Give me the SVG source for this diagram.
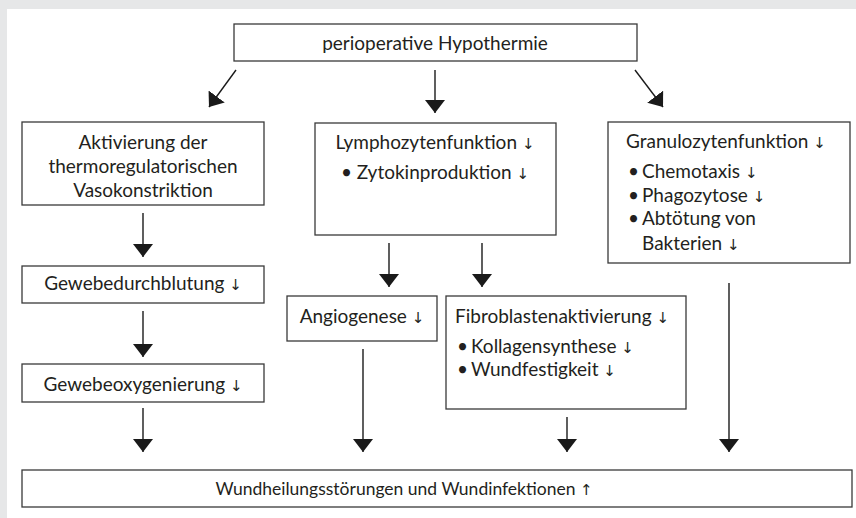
<svg xmlns="http://www.w3.org/2000/svg" width="856" height="518" viewBox="0 0 856 518">
<style>
.box{fill:#fff;stroke:#3a3a3a;stroke-width:1.3}
.t{font-family:Lato,"Open Sans","Liberation Sans",sans-serif;font-size:19px;fill:#231f20}
.c{text-anchor:middle}
.a{font-family:"DejaVu Sans",sans-serif;font-size:15px;fill:#231f20}
.ln{stroke:#1a1a1a;stroke-width:1.4;fill:none;marker-end:url(#ah)}
</style>
<defs>
<marker id="ah" markerUnits="userSpaceOnUse" markerWidth="14" markerHeight="22" refX="13" refY="10" orient="auto">
<path d="M0,0 L13,10 L0,20 Z" fill="#1a1a1a"/>
</marker>
</defs>
<rect x="0" y="0" width="856" height="518" fill="#e6e7e8"/>
<rect x="7" y="9" width="849" height="509" fill="#fff"/>

<g id="connectors">
<line class="ln" x1="236" y1="70" x2="209" y2="107"/>
<line class="ln" x1="435" y1="70" x2="435" y2="113"/>
<line class="ln" x1="635" y1="70" x2="663" y2="107"/>
<line class="ln" x1="143" y1="213" x2="143" y2="257"/>
<line class="ln" x1="143" y1="311" x2="143" y2="357"/>
<line class="ln" x1="143" y1="408" x2="143" y2="452"/>
<line class="ln" x1="389" y1="243" x2="389" y2="287"/>
<line class="ln" x1="482" y1="243" x2="482" y2="287"/>
<line class="ln" x1="363" y1="349" x2="363" y2="452"/>
<line class="ln" x1="567" y1="417" x2="567" y2="452"/>
<line class="ln" x1="729" y1="283" x2="729" y2="452"/>
</g>

<g id="hypothermie">
<rect class="box" x="234" y="24" width="403" height="37"/>
<text class="t c" x="435" y="50">perioperative Hypothermie</text>
</g>
<g id="aktivierung">
<rect class="box" x="22" y="122" width="242" height="83"/>
<text class="t c" x="143" y="149">Aktivierung der</text>
<text class="t c" x="143" y="173">thermoregulatorischen</text>
<text class="t c" x="143" y="197">Vasokonstriktion</text>
</g>
<g id="gewebedurchblutung">
<rect class="box" x="22" y="266" width="242" height="37"/>
<text class="t c" x="143" y="290">Gewebedurchblutung <tspan class="a">↓</tspan></text>
</g>
<g id="gewebeoxygenierung">
<rect class="box" x="22" y="364" width="242" height="38"/>
<text class="t c" x="143" y="391">Gewebeoxygenierung <tspan class="a">↓</tspan></text>
</g>
<g id="lymphozyten">
<rect class="box" x="315" y="123" width="241" height="112"/>
<text class="t c" x="435" y="149">Lymphozytenfunktion <tspan class="a">↓</tspan></text>
<text class="t c" x="435" y="179">• Zytokinproduktion <tspan class="a">↓</tspan></text>
</g>
<g id="granulozyten">
<rect class="box" x="608" y="122" width="242" height="141"/>
<text class="t" x="626" y="148">Granulozytenfunktion <tspan class="a">↓</tspan></text>
<text class="t" x="628" y="178">•</text><text class="t" x="642" y="178">Chemotaxis <tspan class="a">↓</tspan></text>
<text class="t" x="628" y="202">•</text><text class="t" x="642" y="202">Phagozytose <tspan class="a">↓</tspan></text>
<text class="t" x="628" y="225">•</text><text class="t" x="642" y="225">Abtötung von</text>
<text class="t" x="642" y="250">Bakterien <tspan class="a">↓</tspan></text>
</g>
<g id="angiogenese">
<rect class="box" x="287" y="296" width="150" height="45"/>
<text class="t c" x="362" y="323">Angiogenese <tspan class="a">↓</tspan></text>
</g>
<g id="fibroblasten">
<rect class="box" x="446" y="296" width="240" height="113"/>
<text class="t" x="455" y="323">Fibroblastenaktivierung <tspan class="a">↓</tspan></text>
<text class="t" x="457" y="353">•</text><text class="t" x="471" y="353">Kollagensynthese <tspan class="a">↓</tspan></text>
<text class="t" x="457" y="376">•</text><text class="t" x="471" y="376">Wundfestigkeit <tspan class="a">↓</tspan></text>
</g>
<g id="wundheilung">
<rect class="box" x="22" y="470" width="830" height="37"/>
<text class="t c" x="404" y="495" style="font-size:17.5px">Wundheilungsstörungen und Wundinfektionen <tspan class="a">↑</tspan></text>
</g>
</svg>
